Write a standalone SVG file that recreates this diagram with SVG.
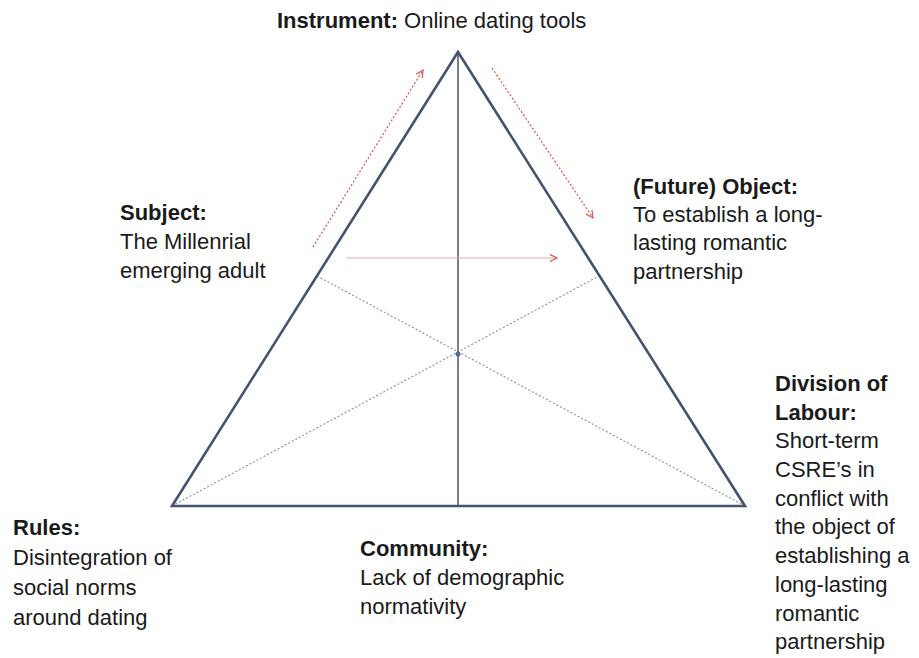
<svg xmlns="http://www.w3.org/2000/svg" width="919" height="658" viewBox="0 0 919 658">
<defs>
<style>
text{font-family:"Liberation Sans",Arial,sans-serif;font-size:22px;fill:#1a1a1a}
.b{font-weight:bold}
.edge{stroke:#44546e;stroke-width:2.6;fill:none;stroke-linejoin:miter}
.axis{stroke:#5a5f6a;stroke-width:1.6}
.thin{stroke:#8391aa;stroke-width:1.1;stroke-dasharray:2 2}
.red{stroke:#d9534f;stroke-width:1.2;stroke-dasharray:2 2;fill:none}
.pink{stroke:#f2a5a5;stroke-width:1.2;fill:none}
</style>
<marker id="ah" viewBox="0 0 10 10" refX="9" refY="5" markerWidth="9" markerHeight="9" markerUnits="userSpaceOnUse" orient="auto">
<path d="M1,1 L9,5 L1,9" fill="none" stroke="#d9534f" stroke-width="1.3"/>
</marker>
</defs>
<rect width="919" height="658" fill="#ffffff"/>
<g id="connectors">
<line class="thin" x1="172" y1="506" x2="599" y2="276"/>
<line class="thin" x1="745" y1="506" x2="317" y2="276"/>
<line class="axis" x1="458" y1="52" x2="458" y2="506"/>
<polygon class="edge" points="458,52 745,506 172,506"/>
<circle cx="458" cy="354" r="2.5" fill="#56698c"/>
<line class="red" x1="313" y1="247" x2="423" y2="70" marker-end="url(#ah)"/>
<line class="red" x1="492" y1="68" x2="593" y2="218" marker-end="url(#ah)"/>
<line class="pink" x1="346" y1="258" x2="557" y2="258" marker-end="url(#ah)"/>
</g>
<g id="instrument">
<text x="277" y="28"><tspan class="b">Instrument:</tspan> Online dating tools</text>
</g>
<g id="subject">
<text x="120" y="220" class="b">Subject:</text>
<text x="120" y="249">The Millenrial</text>
<text x="120" y="278">emerging adult</text>
</g>
<g id="object">
<text x="633" y="194" class="b">(Future) Object:</text>
<text x="633" y="222">To establish a long-</text>
<text x="633" y="250">lasting romantic</text>
<text x="633" y="279">partnership</text>
</g>
<g id="rules">
<text x="13" y="535" class="b">Rules:</text>
<text x="13" y="565">Disintegration of</text>
<text x="13" y="595">social norms</text>
<text x="13" y="625">around dating</text>
</g>
<g id="community">
<text x="360" y="556" class="b">Community:</text>
<text x="360" y="585">Lack of demographic</text>
<text x="360" y="614">normativity</text>
</g>
<g id="division">
<text x="775" y="391" class="b">Division of</text>
<text x="775" y="420" class="b">Labour:</text>
<text x="775" y="448">Short-term</text>
<text x="775" y="477">CSRE’s in</text>
<text x="775" y="506">conflict with</text>
<text x="775" y="534">the object of</text>
<text x="775" y="563">establishing a</text>
<text x="775" y="592">long-lasting</text>
<text x="775" y="621">romantic</text>
<text x="775" y="649">partnership</text>
</g>
</svg>
